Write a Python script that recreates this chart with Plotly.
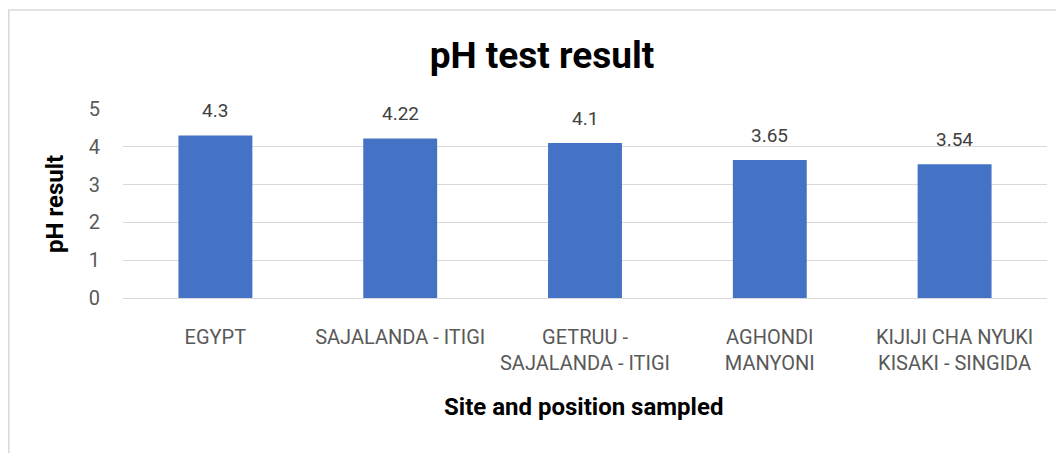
import plotly.graph_objects as go

categories = ["EGYPT", "SAJALANDA - ITIGI", "GETRUU -<br>SAJALANDA - ITIGI", "AGHONDI<br>MANYONI", "KIJIJI CHA NYUKI<br>KISAKI - SINGIDA"]
ph_values = [4.3, 4.22, 4.1, 3.65, 3.54]
ph_labels = ["4.3", "4.22", "4.1", "3.65", "3.54"]
y_ticks = [0, 1, 2, 3, 4, 5]

FONT = "Roboto, sans-serif"
GRAY = "#595959"

# page body has an 8px margin; compensate so the figure lands where the reference is
W, H = 1056, 445
L, T = 115, 101
R, B = 17, 155
pw, ph = W - L - R, H - T - B

fig = go.Figure(go.Bar(
    x=categories, y=ph_values,
    marker=dict(color="#4472C4", line=dict(width=0)),
    hoverinfo="x+y",
))

annotations = []
for c, v, lab in zip(categories, ph_values, ph_labels):
    annotations.append(dict(x=c, y=v, xref="x", yref="y", text=lab, showarrow=False,
                            yanchor="bottom", yshift=11,
                            font=dict(family=FONT, size=19, color="#404040")))

annotations.append(dict(text="<b>pH result</b>", xref="paper", yref="paper",
                        x=(47 - L) / pw, y=(H - B - 196) / ph, xanchor="center", yanchor="middle",
                        textangle=-90, showarrow=False,
                        font=dict(family=FONT, size=24, color="black")))
annotations.append(dict(text="<b>Site and position sampled</b>", xref="paper", yref="paper",
                        x=(575 - L) / pw, y=(H - B - 399) / ph, xanchor="center", yanchor="middle",
                        showarrow=False,
                        font=dict(family=FONT, size=24, color="black")))

fig.update_layout(
    width=W, height=H,
    margin=dict(l=L, r=R, t=T, b=B),
    paper_bgcolor="white", plot_bgcolor="white",
    bargap=0.6,
    showlegend=False,
    title=dict(text="<b>pH test result</b>", x=534 / W, xanchor="center", y=1 - 47 / H, yanchor="middle",
               font=dict(family=FONT, size=37, color="black")),
    font=dict(family=FONT),
    xaxis=dict(showgrid=False, showline=True, linecolor="#d9d9d9", linewidth=1, ticks="",
               ticklabelstandoff=21,
               tickfont=dict(family=FONT, size=20, color=GRAY)),
    yaxis=dict(range=[0, 5], tickvals=y_ticks, showgrid=True, gridcolor="#d9d9d9", gridwidth=1,
               zeroline=False, showline=False, ticks="", ticklabelstandoff=22,
               tickfont=dict(family=FONT, size=20, color=GRAY)),
    annotations=annotations,
    shapes=[dict(type="rect", xref="paper", yref="paper",
                 x0=(0.75 - L) / pw, x1=(W + 20 - L) / pw,
                 y0=(H - B - (H + 20)) / ph, y1=1 + (T - 2) / ph,
                 line=dict(color="#d9d9d9", width=1.5), fillcolor="rgba(0,0,0,0)", layer="below")],
)

fig.write_html("out.html")
